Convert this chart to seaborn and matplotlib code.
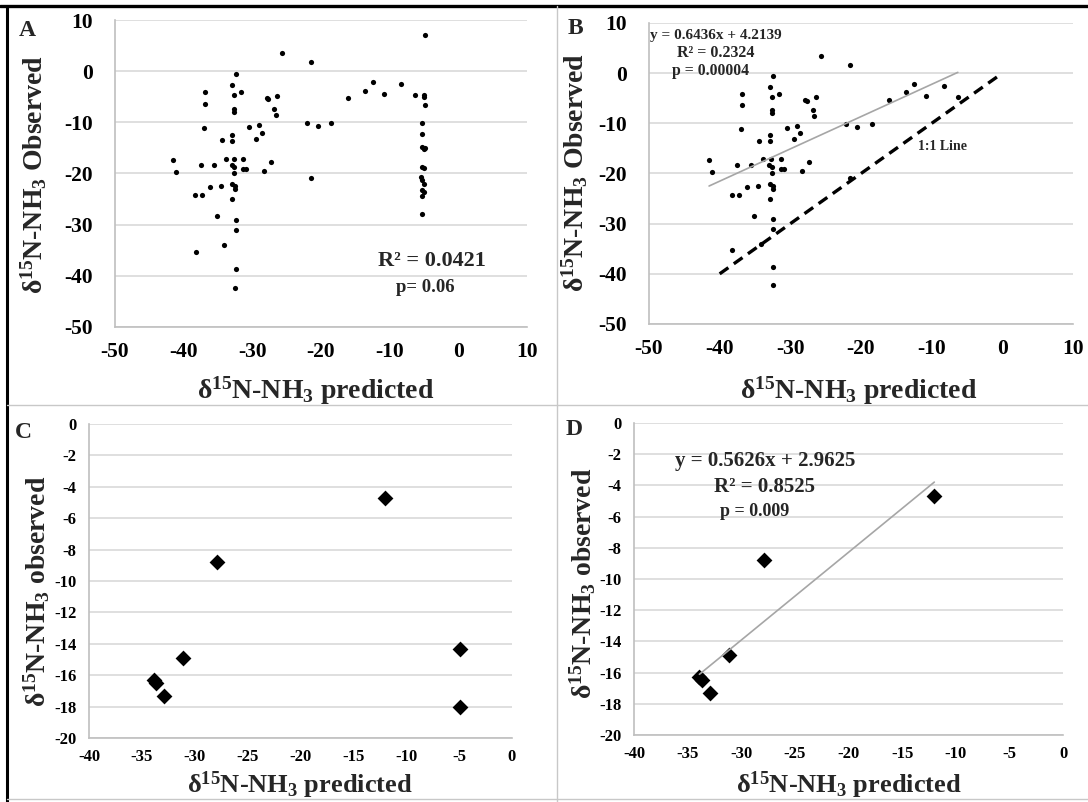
import numpy as np
import pandas as pd
import seaborn as sns
import matplotlib.pyplot as plt
from matplotlib.lines import Line2D

# === Data (delta15N-NH3, per mil)
# panel B points; panel A shows these plus the column near -5
pred_b = [-41.5, -41.1, -38.3, -37.3, -38.2, -37.5, -36.9, -36.9, -37.0, -36.2,
          -35.6, -35.1, -34.6, -34.4, -34.1, -33.8, -32.9, -32.9, -32.9, -32.7,
          -33.0, -32.9, -32.9, -32.6, -32.4, -32.6, -32.6, -32.6, -32.6, -32.5,
          -32.5, -32.4, -32.4, -32.4, -32.5, -31.6, -31.3, -31.3, -30.9, -30.5,
          -29.5, -29.1, -28.6, -28.3, -27.9, -27.7, -27.3, -26.8, -26.6, -26.4,
          -25.7, -22.1, -21.5, -21.5, -20.5, -18.5, -16.0, -13.6, -12.5, -10.8,
          -8.3, -6.3]
obs_b = [-17.4, -19.7, -24.2, -24.2, -35.3, -18.4, -4.1, -6.4, -11.1, -22.6,
         -18.4, -28.4, -22.4, -13.5, -34.0, -17.1, -2.7, -12.4, -13.6, -17.1,
         -18.4, -22.1, -25.0, -4.7, -0.6, -7.4, -8.0, -18.7, -19.9, -22.4,
         -23.1, -29.1, -31.1, -38.7, -42.3, -4.1, -17.1, -19.2, -19.2, -11.0,
         -13.2, -10.6, -12.0, -19.5, -5.3, -5.5, -17.8, -7.3, -8.5, -4.8,
         3.5, -10.1, 1.7, -20.8, -10.7, -10.1, -5.3, -3.8, -2.2, -4.5,
         -2.5, -4.7]
pred_a_extra = [-4.9, -5.0, -5.0, -4.9, -5.3, -5.3, -5.3, -4.9, -5.0, -5.3,
                -5.0, -5.5, -5.3, -5.0, -5.3, -5.0, -5.3, -5.3]
obs_a_extra = [7.1, -4.6, -5.1, -6.6, -10.2, -12.2, -14.9, -15.0, -15.3, -18.7,
               -18.9, -20.7, -21.3, -22.0, -23.3, -23.6, -24.3, -27.9]

pred_c = [-12.0, -27.9, -31.1, -33.9, -33.7, -32.9, -4.9, -4.9]
obs_c = [-4.7, -8.8, -14.9, -16.3, -16.5, -17.3, -14.3, -18.0]
pred_d = pred_c[:6]
obs_d = obs_c[:6]

fit_b = (0.6436, 4.2139)
fit_d = (0.5626, 2.9625)
one_to_one = [-40, 0]

df_a = pd.DataFrame({"pred": pred_b + pred_a_extra, "obs": obs_b + obs_a_extra})
df_b = pd.DataFrame({"pred": pred_b, "obs": obs_b})
df_c = pd.DataFrame({"pred": pred_c, "obs": obs_c})
df_d = pd.DataFrame({"pred": pred_d, "obs": obs_d})

# === Style
sns.set_theme(style="white")
plt.rcParams["font.family"] = ["Liberation Serif", "DejaVu Serif"]
plt.rcParams["font.weight"] = "bold"
plt.rcParams["axes.unicode_minus"] = False
plt.rcParams["mathtext.fontset"] = "custom"
plt.rcParams["mathtext.rm"] = "Liberation Serif:bold"
plt.rcParams["mathtext.bf"] = "Liberation Serif:bold"
plt.rcParams["mathtext.it"] = "Liberation Serif:bold:italic"

GRID = "#d9d9d9"
AXIS = "#bfbfbf"
W, H = 1088, 802
fig = plt.figure(figsize=(W / 100, H / 100), dpi=100)


def px_axes(left, top, right, bottom):
    return fig.add_axes([left / W, 1 - bottom / H, (right - left) / W, (bottom - top) / H])


def px_text(x, y, s, size, **kw):
    kw.setdefault("ha", "center")
    kw.setdefault("va", "center")
    fig.text(x / W, 1 - y / H, s, fontsize=size, fontweight="bold", **kw)


def style_axes(ax, xticks, yticks, tick_size, ylen, ypad, xpad):
    ax.set_xlim(xticks[0], xticks[-1])
    ax.set_ylim(yticks[0], yticks[-1])
    ax.set_xticks(xticks)
    ax.set_yticks(yticks)
    ax.set_xlabel("")
    ax.set_ylabel("")
    ax.grid(False)
    ax.yaxis.grid(True, color=GRID, lw=1.2)
    ax.set_axisbelow(True)
    for s in ["top", "right"]:
        ax.spines[s].set_visible(False)
    for s in ["left", "bottom"]:
        ax.spines[s].set_color(AXIS)
        ax.spines[s].set_linewidth(1.2)
    ax.tick_params(axis="x", direction="out", length=5, width=1.2, color=AXIS,
                   labelsize=tick_size, pad=xpad, labelcolor="black")
    ax.tick_params(axis="y", direction="out", length=ylen, width=1.2, color=GRID,
                   labelsize=tick_size, pad=ypad, labelcolor="black")
    for lab in ax.get_xticklabels() + ax.get_yticklabels():
        lab.set_fontweight("bold")


xlab = r"δ$^{\mathbf{15}}$N-NH$_{\mathbf{3}}$ predicted"
ylab_obs_cap = r"δ$^{\mathbf{15}}$N-NH$_{\mathbf{3}}$ Observed"
ylab_obs = r"δ$^{\mathbf{15}}$N-NH$_{\mathbf{3}}$ observed"

ticks_big = np.arange(-50, 11, 10)
ticks_cx = np.arange(-40, 1, 5)
ticks_cy = np.arange(-20, 1, 2)

# === Panel A
ax_a = px_axes(115, 20, 527, 327)
sns.scatterplot(data=df_a, x="pred", y="obs", ax=ax_a, color="black", s=14,
                linewidth=0, legend=False)
style_axes(ax_a, ticks_big, ticks_big, 15.5, 7, 9, 6)

# === Panel B
ax_b = px_axes(649, 23, 1073, 324)
sns.scatterplot(data=df_b, x="pred", y="obs", ax=ax_b, color="black", s=14,
                linewidth=0, legend=False)
xb = np.array([min(pred_b), max(pred_b)])
sns.lineplot(x=xb, y=fit_b[0] * xb + fit_b[1], ax=ax_b, color="#a6a6a6", lw=1.2)
sns.lineplot(x=one_to_one, y=one_to_one, ax=ax_b, color="black", lw=2.4)
ax_b.lines[-1].set_dashes([3.2, 2.0])
style_axes(ax_b, ticks_big, ticks_big, 15.5, 7, 9, 6)

# === Panel C
ax_c = px_axes(89, 424, 512, 738)
sns.scatterplot(data=df_c, x="pred", y="obs", ax=ax_c, color="black", s=65,
                marker="D", linewidth=0, legend=False)
style_axes(ax_c, ticks_cx, ticks_cy, 12, 4, 5, 3)

# === Panel D
ax_d = px_axes(634, 423, 1063, 735)
sns.scatterplot(data=df_d, x="pred", y="obs", ax=ax_d, color="black", s=65,
                marker="D", linewidth=0, legend=False)
xd = np.array([min(pred_d), max(pred_d)])
sns.lineplot(x=xd, y=fit_d[0] * xd + fit_d[1], ax=ax_d, color="#a6a6a6", lw=1.2)
style_axes(ax_d, ticks_cx, ticks_cy, 12, 4, 5, 3)

# === Axis labels
for x, y, size in [(316, 399, 20), (859, 399, 20), (300, 793, 19), (849, 793, 19)]:
    px_text(x, y, xlab, size, va="baseline")
for x, y, s in [(43, 175, ylab_obs_cap), (584, 173, ylab_obs_cap),
                (46, 591, ylab_obs), (592, 583, ylab_obs)]:
    px_text(x, y, s, 20, va="baseline", rotation=90, rotation_mode="anchor")

# === Panel letters
for x, y, s in [(27, 30, "A"), (575, 29, "B"), (23, 432, "C"), (574, 429, "D")]:
    px_text(x, y, s, 17)

# === Annotations
px_text(432, 261, "R² = 0.0421", 16)
px_text(425, 287, "p= 0.06", 13.5)
px_text(716, 35, "y = 0.6436x + 4.2139", 11)
px_text(716, 53, "R² = 0.2324", 11.5)
px_text(711, 71, "p = 0.00004", 11.3)
px_text(942, 147, "1:1 Line", 10)
px_text(765, 461, "y = 0.5626x + 2.9625", 15)
px_text(765, 487, "R² = 0.8525", 15)
px_text(755, 512, "p = 0.009", 13)

# === Panel frame lines
def px_line(x0, y0, x1, y1, color, lw):
    fig.add_artist(Line2D([x0 / W, x1 / W], [1 - y0 / H, 1 - y1 / H],
                          transform=fig.transFigure, color=color, lw=lw))


px_line(0, 6, W, 6, "black", 2.4)
px_line(7, 6, 7, H, "black", 2.2)
px_line(557, 6, 557, H, "#c8c8c8", 1.0)
px_line(7, 405, W, 405, "#c8c8c8", 1.0)
px_line(7, 799, W, 799, "#c8c8c8", 1.0)

fig.savefig("out.png", dpi=100)
